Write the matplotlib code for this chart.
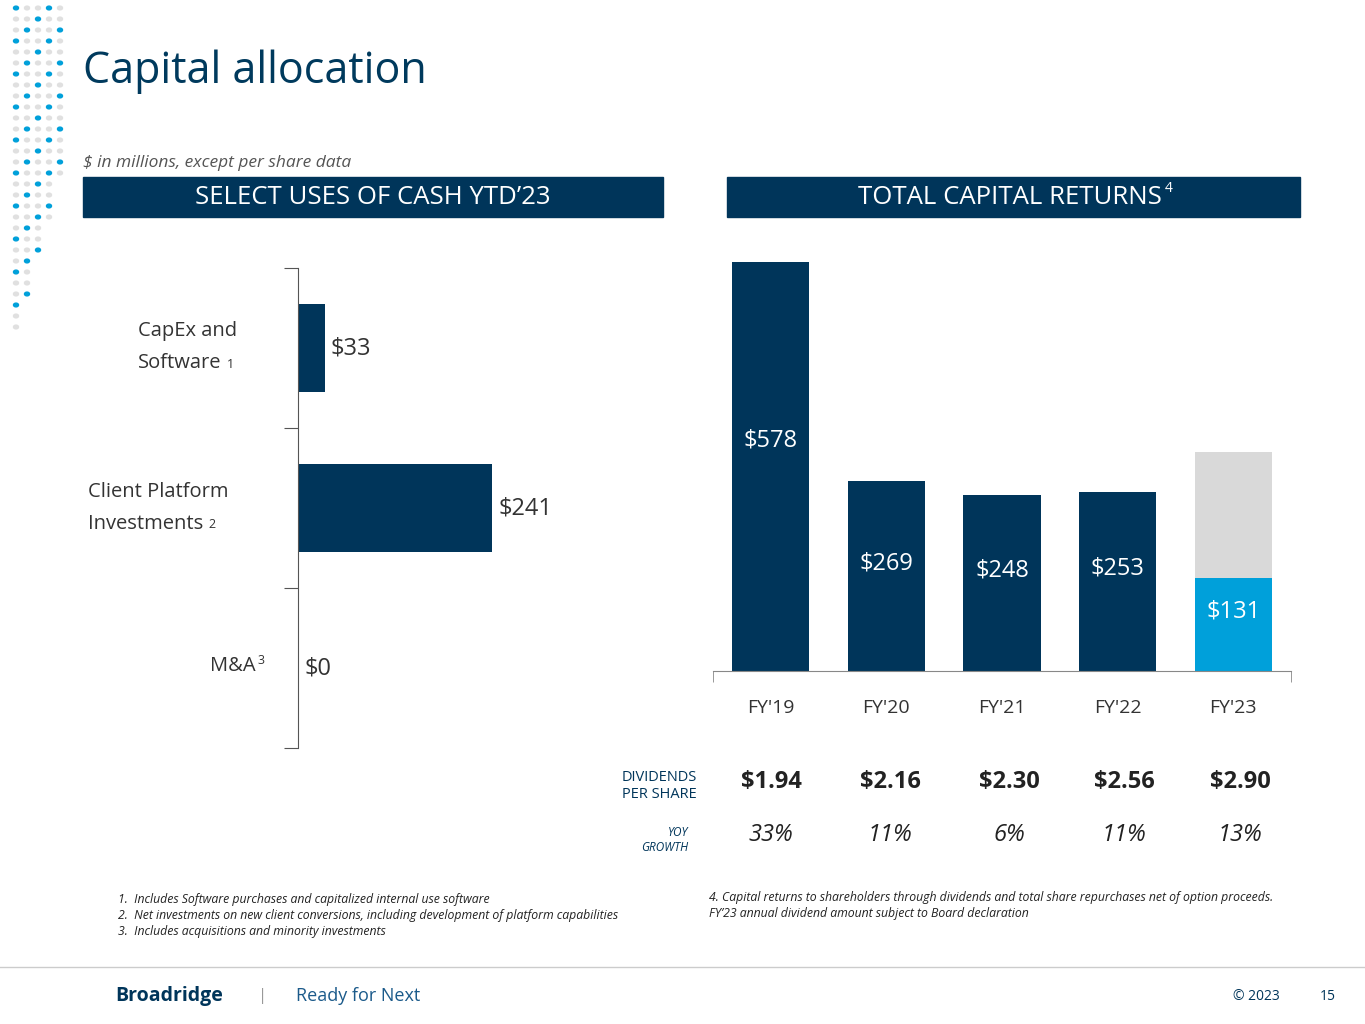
import matplotlib
matplotlib.use("Agg")
import matplotlib.pyplot as plt
from matplotlib.patches import Rectangle

plt.rcParams['font.family'] = ['Open Sans', 'DejaVu Sans']

NAVY = '#00355a'
BLUE = '#00a0da'
GREY = '#d9d9d9'
TXT = '#333333'

uses_labels = ['CapEx and\nSoftware', 'Client Platform\nInvestments', 'M&A']
uses_sup = ['1', '2', '3']
uses_values = [33, 241, 0]

years = ["FY'19", "FY'20", "FY'21", "FY'22", "FY'23"]
returns = [578, 269, 248, 253, 131]
fy23_total = 310
dividends = ['$1.94', '$2.16', '$2.30', '$2.56', '$2.90']
growth = ['33%', '11%', '6%', '11%', '13%']

W, H = 1365, 1024
fig = plt.figure(figsize=(13.65, 10.24), dpi=100)
renderer = fig.canvas.get_renderer()

def fx(x): return x / W
def fy(y): return 1 - y / H

def right_px(t):
    bb = t.get_window_extent(renderer=renderer)
    return bb.x1

fig.text(fx(83), fy(72), 'Capital allocation', fontsize=31, color='#003a5d', va='center')
fig.text(fx(83), fy(163), '$ in millions, except per share data', fontsize=12.5, style='italic', color='#555555', va='center')

for x0, x1 in [(83, 663), (727, 1300)]:
    fig.patches.append(Rectangle((fx(x0), fy(217)), fx(x1 - x0), (217 - 177) / H, transform=fig.transFigure, color=NAVY))
fig.text(fx(373), fy(197), 'SELECT USES OF CASH YTD\u201923', color='white', fontsize=18.5, ha='center', va='center')
t = fig.text(fx(1010), fy(197), 'TOTAL CAPITAL RETURNS', color='white', fontsize=18.5, ha='center', va='center')
fig.text(right_px(t) / W + 0.002, fy(189), '4', color='white', fontsize=10, ha='left', va='center')

# left chart
axL = fig.add_axes([fx(298), fy(748), fx(362), (748 - 268) / H])
ypos = [2.5, 1.5, 0.5]
axL.barh(ypos, uses_values, height=0.55, color=NAVY)
axL.set_xlim(0, 450)
axL.set_ylim(0, 3)
for s in ['top', 'right', 'bottom']:
    axL.spines[s].set_visible(False)
axL.spines['left'].set_color('#555555')
axL.set_xticks([])
axL.set_yticks([0, 1, 2, 3])
axL.set_yticklabels([])
axL.tick_params(axis='y', length=10, color='#555555')
for y, v in zip(ypos, uses_values):
    axL.text(v + 8, y, f'${v}', fontsize=17, color=TXT, va='center', ha='left')

# category labels
for xl, y, lines, sup in [(138, 347, ['CapEx and', 'Software'], '1'),
                          (88, 508, ['Client Platform', 'Investments'], '2')]:
    fig.text(fx(xl), fy(y - 16), lines[0], fontsize=14.5, color=TXT, va='center')
    t2 = fig.text(fx(xl), fy(y + 16), lines[1], fontsize=14.5, color=TXT, va='center')
    fig.text(right_px(t2) / W + 0.004, fy(y + 17), sup, fontsize=9, color=TXT, va='center')
fig.text(fx(256), fy(666), 'M&A', fontsize=14.5, color=TXT, va='center', ha='right')
fig.text(fx(257), fy(660), '3', fontsize=9, color=TXT, va='center')

# right chart
axR = fig.add_axes([fx(713), fy(671), fx(1291 - 713), (671 - 220) / H])
xs = list(range(len(years)))
axR.bar(xs[-1], fy23_total, width=0.667, color=GREY)
cols = [NAVY] * 4 + [BLUE]
axR.bar(xs, returns, width=0.667, color=cols)
axR.set_xlim(-0.5, 4.5)
axR.set_ylim(0, 637)
for s in ['top', 'right', 'left']:
    axR.spines[s].set_visible(False)
axR.spines['bottom'].set_color('#888888')
axR.set_yticks([])
axR.set_xticks([-0.5, 4.5], minor=True)
axR.tick_params(axis='x', which='minor', length=8, color='#888888')
axR.set_xticks(xs)
axR.set_xticklabels(years, fontsize=14, color=TXT)
axR.tick_params(axis='x', which='major', length=0, pad=20)
for x, v in zip(xs, returns):
    axR.text(x, v / 2 + (37 if v > 400 else 18), f'${v}', color='white', fontsize=17, ha='center', va='center')

fig.text(fx(697), fy(786), 'DIVIDENDS\nPER SHARE', fontsize=10.5, color=NAVY, ha='right', va='center', linespacing=1.2)
fig.text(fx(688), fy(840), 'YOY\nGROWTH', fontsize=8.5, style='italic', color=NAVY, ha='right', va='center', linespacing=1.2)
centers = [771, 890, 1009, 1124, 1240]
for c, d, g in zip(centers, dividends, growth):
    fig.text(fx(c), fy(782), d, fontsize=17, fontweight='bold', color='#222222', ha='center', va='center')
    fig.text(fx(c), fy(835), g, fontsize=17, style='italic', color='#222222', ha='center', va='center')

fig.text(fx(118), fy(915), '1.  Includes Software purchases and capitalized internal use software\n'
         '2.  Net investments on new client conversions, including development of platform capabilities\n'
         '3.  Includes acquisitions and minority investments',
         fontsize=8.8, style='italic', color='#222222', va='center', linespacing=1.3)
fig.text(fx(709), fy(906), '4. Capital returns to shareholders through dividends and total share repurchases net of option proceeds.\n'
         'FY\u201923 annual dividend amount subject to Board declaration',
         fontsize=8.8, style='italic', color='#222222', va='center', linespacing=1.3)

fig.add_artist(plt.Line2D([0, 1], [fy(967), fy(967)], color='#cccccc', lw=1, transform=fig.transFigure))
fig.text(fx(115), fy(996), 'Broadridge', fontsize=14, fontweight='bold', color=NAVY, va='center')
fig.text(fx(258), fy(996), '|', fontsize=12, color='#999999', va='center')
fig.text(fx(296), fy(996), 'Ready for Next', fontsize=13, color='#1b5a8a', va='center')
fig.text(fx(1280), fy(996), '\u00a9 2023', fontsize=10, color=NAVY, va='center', ha='right')
fig.text(fx(1336), fy(996), '15', fontsize=10, color=NAVY, va='center', ha='right')

for i, cx in enumerate([16, 27, 38, 49, 60]):
    for j in range(30):
        cy = 8 + j * 11
        if cy > 340 - i * 40:
            break
        fig.patches.append(plt.Circle((fx(cx), fy(cy)), 2.5 / W, transform=fig.transFigure,
                                      color=BLUE if (i + j) % 3 == 0 else '#e0e0e0'))

fig.savefig('out.png', dpi=100)
